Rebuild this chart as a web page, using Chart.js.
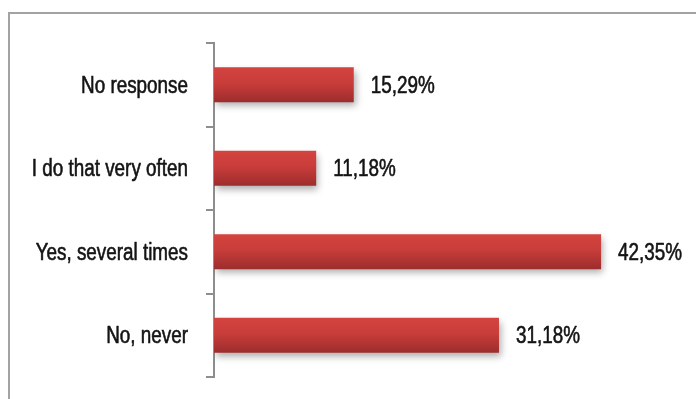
<!DOCTYPE html>
<html>
<head>
<meta charset="utf-8">
<script src="https://cdn.jsdelivr.net/npm/chart.js@4/dist/chart.umd.min.js"></script>
<style>
  html, body { margin: 0; padding: 0; background: #ffffff; }
  #wrap { position: relative; width: 696px; height: 399px; }
</style>
</head>
<body>
<div id="wrap"><canvas id="chart" width="696" height="399"></canvas></div>
<script>
// Survey answers and their shares (percent)
const categories = ['No response', 'I do that very often', 'Yes, several times', 'No, never'];
const shares = [15.29, 11.18, 42.35, 31.18];
const valueLabels = ['15,29%', '11,18%', '42,35%', '31,18%'];

const FONT_SIZE = 23;
const FONT = FONT_SIZE + 'px "Liberation Sans", Arial, sans-serif';
const NARROW = 0.82;          // horizontal squeeze for a narrow face
const BAR_FRACTION = 0.42;
const TEXT_COLOR = '#141414';

// Draws text squeezed horizontally, anchored at (x, baseline y), slightly heavier
function narrowText(c, text, x, y, align) {
  c.save();
  c.font = FONT;
  c.fillStyle = TEXT_COLOR;
  c.strokeStyle = TEXT_COLOR;
  c.lineWidth = 0.6;
  c.lineJoin = 'round';
  c.textBaseline = 'alphabetic';
  c.textAlign = align;
  c.translate(x, y);
  c.scale(NARROW, 1);
  c.fillText(text, 0, 0);
  c.strokeText(text, 0, 0);
  c.restore();
}

// Vertical red gradient for each bar, spanning its own thickness
function barGradient(ctx) {
  const chart = ctx.chart;
  const y = chart.scales.y;
  if (!y || ctx.dataIndex === undefined) return '#c63c3a';
  const center = y.getPixelForValue(ctx.dataIndex);
  const step = Math.abs(y.getPixelForValue(1) - y.getPixelForValue(0));
  if (!isFinite(center) || !isFinite(step) || step === 0) return '#c63c3a';
  const half = step * BAR_FRACTION / 2;
  const g = chart.ctx.createLinearGradient(0, center - half, 0, center + half);
  g.addColorStop(0, '#d4433f');
  g.addColorStop(0.45, '#c83d3a');
  g.addColorStop(1, '#9c2d2d');
  return g;
}

// Outer frame of the figure
const framePlugin = {
  id: 'frame',
  beforeDraw(chart) {
    const c = chart.ctx;
    c.save();
    c.strokeStyle = '#a3a3a3';
    c.lineWidth = 2;
    c.strokeRect(9, 13, 900, 600);
    c.restore();
  }
};

// Category names to the left of the axis
const categoryText = {
  id: 'categoryText',
  afterDraw(chart) {
    const y = chart.scales.y;
    const capHalf = FONT_SIZE * 0.716 / 2;
    categories.forEach((name, i) => {
      narrowText(chart.ctx, name, 188, y.getPixelForValue(i) + capHalf, 'right');
    });
  }
};

// Soft drop shadow under the bars, then the value labels
const barDecor = {
  id: 'barDecor',
  beforeDatasetsDraw(chart) {
    const c = chart.ctx;
    c.save();
    c.shadowColor = 'rgba(0,0,0,0.32)';
    c.shadowBlur = 7;
    c.shadowOffsetX = 2;
    c.shadowOffsetY = 4;
  },
  afterDatasetsDraw(chart) {
    const c = chart.ctx;
    c.restore();
    const capHalf = FONT_SIZE * 0.716 / 2;
    chart.getDatasetMeta(0).data.forEach((bar, i) => {
      narrowText(c, valueLabels[i], bar.x + 17, bar.y + capHalf, 'left');
    });
  }
};

new Chart(document.getElementById('chart'), {
  type: 'bar',
  data: {
    labels: categories,
    datasets: [{
      data: shares,
      backgroundColor: barGradient,
      borderWidth: 0,
      categoryPercentage: 1,
      barPercentage: BAR_FRACTION
    }]
  },
  options: {
    indexAxis: 'y',
    responsive: false,
    animation: false,
    events: [],
    layout: { padding: { left: 0, right: 25, top: 43, bottom: 22 } },
    plugins: {
      legend: { display: false },
      tooltip: { enabled: false }
    },
    scales: {
      x: {
        display: false,
        min: 0,
        max: 50
      },
      y: {
        afterFit(scale) { scale.width = 214; },
        grid: {
          offset: true,
          drawOnChartArea: false,
          drawTicks: true,
          tickLength: 8,
          color: '#8e8e8e',
          lineWidth: 2
        },
        border: { display: true, color: '#8e8e8e', width: 2 },
        ticks: { display: false }
      }
    }
  },
  plugins: [framePlugin, barDecor, categoryText]
});
</script>
</body>
</html>
